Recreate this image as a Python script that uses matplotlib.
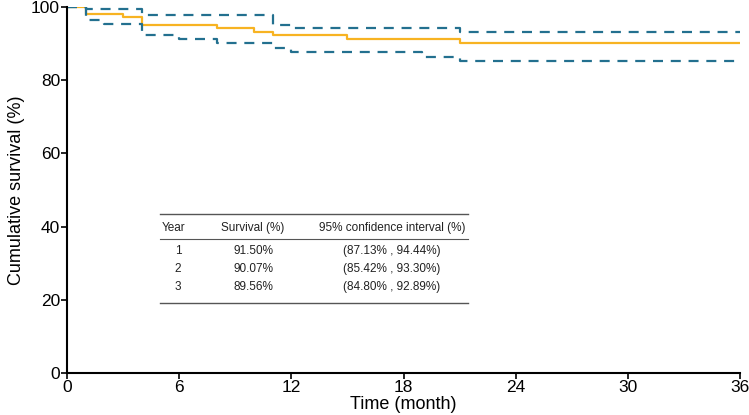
import matplotlib.pyplot as plt
from matplotlib import font_manager

# step data (month, % at and after that month)
surv_t = [0, 1, 3, 4, 8, 10, 11, 15, 21, 36]
surv_y = [100, 98.2, 97.3, 95.2, 94.2, 93.3, 92.3, 91.3, 90.2, 90.2]

upper_t = [0, 1, 4, 11, 12, 21, 36]
upper_y = [100, 99.4, 97.8, 95.1, 94.2, 93.3, 93.3]

lower_t = [0, 1, 2, 4, 6, 8, 11, 12, 19, 21, 36]
lower_y = [100, 96.4, 95.4, 92.3, 91.2, 90.2, 88.9, 87.8, 86.3, 85.2, 85.2]

table_head = ["Year", "Survival (%)", "95% confidence interval (%)"]
table_rows = [["1", "91.50%", "(87.13% , 94.44%)"],
              ["2", "90.07%", "(85.42% , 93.30%)"],
              ["3", "89.56%", "(84.80% , 92.89%)"]]

names = {f.name for f in font_manager.fontManager.ttflist}
axis_font = "Liberation Sans Narrow" if "Liberation Sans Narrow" in names else "Liberation Sans"

fig = plt.figure(figsize=(7.49, 4.15), dpi=100)
ax = fig.add_axes([67/749, 1-373/415, 673/749, 366/415])

ax.step(surv_t, surv_y, where='post', color='#F7B322', lw=1.6)
ax.step(upper_t, upper_y, where='post', color='#23708F', lw=1.6, ls=(0, (4.5, 3.5)))
ax.step(lower_t, lower_y, where='post', color='#23708F', lw=1.6, ls=(0, (4.5, 3.5)))

ax.set_xlim(0, 36)
ax.set_ylim(0, 100)
ax.set_xticks(range(0, 37, 6))
ax.set_yticks(range(0, 101, 20))
for s in ['top', 'right']:
    ax.spines[s].set_visible(False)
for s in ['left', 'bottom']:
    ax.spines[s].set_linewidth(1.5)
ax.tick_params(length=4, width=1.2, labelsize=12.5, pad=1)
for lab in ax.get_xticklabels() + ax.get_yticklabels():
    lab.set_fontfamily(axis_font)
ax.set_xlabel("Time (month)", fontsize=13, fontfamily=axis_font, labelpad=1)
ax.set_ylabel("Cumulative survival (%)", fontsize=13, fontfamily=axis_font, labelpad=4)

# summary table drawn in figure pixels
def fx(px):
    return px / 749
def fy(py):
    return 1 - py / 415

tf = dict(fontsize=8.5, fontfamily="Liberation Sans", color='#222222', va='center')
for py, lw in [(214, 1.0), (239, 0.8), (303, 1.0)]:
    fig.add_artist(plt.Line2D([fx(160), fx(468)], [fy(py), fy(py)], color='#555555', lw=lw))
fig.text(fx(162), fy(228), table_head[0], ha='left', **tf)
fig.text(fx(253), fy(228), table_head[1], ha='center', **tf)
fig.text(fx(392), fy(228), table_head[2], ha='center', **tf)
for i, row in enumerate(table_rows):
    py = 251 + i * 18
    fig.text(fx(178), fy(py), row[0], ha='center', **tf)
    fig.text(fx(253), fy(py), row[1], ha='center', **tf)
    fig.text(fx(392), fy(py), row[2], ha='center', **tf)

fig.savefig("out.png", dpi=100)
